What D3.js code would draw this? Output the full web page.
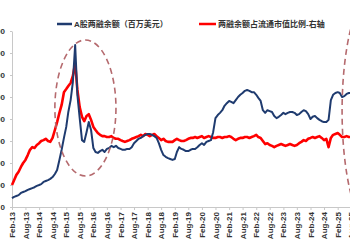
<!DOCTYPE html>
<html>
<head>
<meta charset="utf-8">
<script src="https://cdn.jsdelivr.net/npm/d3@7"></script>
<style>
  body { margin: 0; background: #fff; }
  svg { display: block; font-family: "Liberation Sans", Arial, "Noto Sans CJK SC", sans-serif; }
</style>
</head>
<body>
<svg id="chart" width="350" height="250"></svg>
<script>
// monthly data, first month Feb-2013
const startMonth = new Date(2013, 1, 1);

// A股两融余额（百万美元）
const marginBalance = [
  20000, 23000, 25000, 27000, 32000, 34000, 36000, 39000, 41000, 43000, 45000, 48000,
  50000, 52000, 57000, 59000, 61000, 64000, 68000, 75000, 84000, 107000, 130000, 157000,
  182000, 216000, 243000, 284000, 368000, 255000, 202000, 152000, 148000, 170000, 193000, 175000,
  134000, 125000, 123000, 127000, 130000, 125000, 132000, 134000, 139000, 136000, 139000, 134000,
  132000, 130000, 130000, 132000, 132000, 136000, 145000, 150000, 155000, 157000, 161000, 164000,
  166000, 166000, 164000, 161000, 157000, 145000, 130000, 118000, 114000, 111000, 109000, 107000,
  109000, 125000, 136000, 132000, 130000, 127000, 127000, 130000, 132000, 132000, 136000, 141000,
  145000, 141000, 148000, 150000, 152000, 170000, 202000, 209000, 214000, 220000, 230000, 236000,
  241000, 239000, 236000, 243000, 250000, 255000, 259000, 264000, 266000, 264000, 261000, 261000,
  255000, 248000, 241000, 220000, 214000, 220000, 218000, 216000, 207000, 202000, 205000, 209000,
  214000, 211000, 214000, 216000, 216000, 214000, 209000, 211000, 216000, 220000, 218000, 211000,
  200000, 205000, 207000, 202000, 198000, 195000, 193000, 193000, 198000, 243000, 255000, 259000,
  261000, 259000, 250000, 252000, 257000, 259000, 259000, 261000, 264000
];

// 两融余额占流通市值比例（%，右轴）
const marginRatio = [
  1.00, 1.11, 1.23, 1.30, 1.41, 1.50, 1.57, 1.68, 1.80, 1.86, 1.84, 1.91,
  1.95, 2.00, 2.02, 2.05, 2.00, 1.98, 2.07, 2.25, 2.43, 2.64, 2.82, 3.11,
  3.18, 3.25, 3.32, 3.48, 3.77, 3.16, 2.77, 2.55, 2.45, 2.57, 2.61, 2.48,
  2.32, 2.25, 2.18, 2.14, 2.11, 2.11, 2.09, 2.09, 2.11, 2.07, 2.05, 2.05,
  2.02, 2.00, 1.98, 2.00, 2.02, 2.05, 2.07, 2.09, 2.11, 2.14, 2.11, 2.16,
  2.14, 2.11, 2.14, 2.16, 2.11, 2.07, 2.02, 2.05, 2.00, 1.98, 1.98, 1.98,
  2.02, 2.05, 2.02, 2.00, 2.00, 2.02, 2.05, 2.07, 2.07, 2.09, 2.07, 2.09,
  2.11, 2.07, 2.09, 2.11, 2.09, 2.07, 2.07, 2.09, 2.09, 2.07, 2.09, 2.09,
  2.11, 2.09, 2.05, 2.02, 2.05, 2.07, 2.07, 2.09, 2.09, 2.07, 2.09, 2.11,
  2.14, 2.09, 2.07, 2.00, 1.93, 1.95, 1.91, 1.89, 1.86, 1.89, 1.91, 1.93,
  1.91, 1.89, 1.91, 1.93, 1.91, 1.89, 1.91, 1.95, 1.98, 2.02, 2.00, 2.05,
  2.07, 2.09, 2.07, 2.09, 2.11, 2.07, 2.02, 2.05, 1.86, 2.07, 2.14, 2.16,
  2.18, 2.14, 2.09, 2.09, 2.11, 2.09, 2.09, 2.11, 2.09
];

const leftTicks = [0, 50000, 100000, 150000, 200000, 250000, 300000, 350000, 400000];

const legendLabels = ['A股两融余额（百万美元）', '两融余额占流通市值比例-右轴'];

const blue = '#1f3b6f';
const red = '#ff0000';
const axisColor = '#c8c8c8';
const ellipseColor = '#b56a6e';

const svg = d3.select('svg#chart');

const months = marginBalance.map((d, i) => d3.timeMonth.offset(startMonth, i));
const lastMonth = months[months.length - 1];

// x: Feb-13 sits on the left axis, Feb-25 near the right edge
const x = d3.scaleTime()
  .domain([startMonth, new Date(2025, 1, 1)])
  .range([12, 337.7]);

const yLeft = d3.scaleLinear().domain([0, 400000]).range([207, 31]);
const yRight = d3.scaleLinear().domain([0.5, 4.5]).range([207, 31]);

// x axis, extended to the end of the data
const xAxisScale = x.copy().domain([startMonth, lastMonth]).range([x(startMonth), x(lastMonth)]);
const xTicks = d3.timeMonth.range(startMonth, lastMonth, 6);

const gx = svg.append('g')
  .attr('transform', `translate(0, ${yLeft(0)})`)
  .call(d3.axisBottom(xAxisScale)
    .tickValues(xTicks)
    .tickSize(3)
    .tickSizeOuter(0)
    .tickFormat(d3.timeFormat('%b-%y')));
gx.select('.domain').attr('stroke', axisColor);
gx.selectAll('.tick line').attr('stroke', axisColor);
gx.selectAll('.tick text')
  .attr('transform', 'rotate(-90)')
  .attr('text-anchor', 'end')
  .attr('x', -5)
  .attr('y', 0)
  .attr('dy', '0.32em')
  .attr('fill', '#333')
  .attr('font-size', 8)
  .attr('font-weight', 'bold');

// left axis (labels mostly run off the left edge, as in the source)
const gy = svg.append('g')
  .attr('transform', `translate(${x(startMonth)}, 0)`)
  .call(d3.axisLeft(yLeft)
    .tickValues(leftTicks)
    .tickSize(2)
    .tickSizeOuter(0)
    .tickFormat(d3.format(',')));
gy.select('.domain').attr('stroke', axisColor);
gy.selectAll('.tick line').attr('stroke', axisColor);
gy.selectAll('.tick text')
  .attr('x', -7)
  .attr('fill', '#333')
  .attr('font-size', 8)
  .attr('font-weight', 'bold');

// lines
const lineLeft = d3.line()
  .x((d, i) => x(months[i]))
  .y(d => yLeft(d));
const lineRight = d3.line()
  .x((d, i) => x(months[i]))
  .y(d => yRight(d));

svg.append('path')
  .datum(marginRatio)
  .attr('d', lineRight)
  .attr('fill', 'none')
  .attr('stroke', red)
  .attr('stroke-width', 2.6)
  .attr('stroke-linejoin', 'round');

svg.append('path')
  .datum(marginBalance)
  .attr('d', lineLeft)
  .attr('fill', 'none')
  .attr('stroke', blue)
  .attr('stroke-width', 2)
  .attr('stroke-linejoin', 'round');

// dashed highlight ellipses: 2015 bubble and the latest period
const highlights = [
  {from: new Date(2014, 8, 1), to: new Date(2016, 11, 1), top: 40, bottom: 176},
  {from: new Date(2025, 3, 1), to: new Date(2027, 6, 1), top: -7, bottom: 229}
];
svg.append('g').selectAll('ellipse')
  .data(highlights)
  .enter().append('ellipse')
    .attr('cx', d => (x(d.from) + x(d.to)) / 2)
    .attr('cy', d => (d.top + d.bottom) / 2)
    .attr('rx', d => (x(d.to) - x(d.from)) / 2)
    .attr('ry', d => (d.bottom - d.top) / 2)
    .attr('fill', 'none')
    .attr('stroke', ellipseColor)
    .attr('stroke-width', 1.6)
    .attr('stroke-dasharray', '6,4');

// legend
const legend = svg.append('g');
const legendItems = [
  {label: legendLabels[0], color: blue, x: 57, len: 15},
  {label: legendLabels[1], color: red, x: 199, len: 17}
];
legendItems.forEach(d => {
  legend.append('line')
    .attr('x1', d.x).attr('x2', d.x + d.len)
    .attr('y1', 24).attr('y2', 24)
    .attr('stroke', d.color)
    .attr('stroke-width', 2.5);
  legend.append('text')
    .attr('x', d.x + d.len + 2)
    .attr('y', 24)
    .attr('dy', '0.35em')
    .attr('font-size', 8)
    .attr('font-weight', 'bold')
    .attr('fill', '#333')
    .text(d.label);
});
</script>
</body>
</html>
